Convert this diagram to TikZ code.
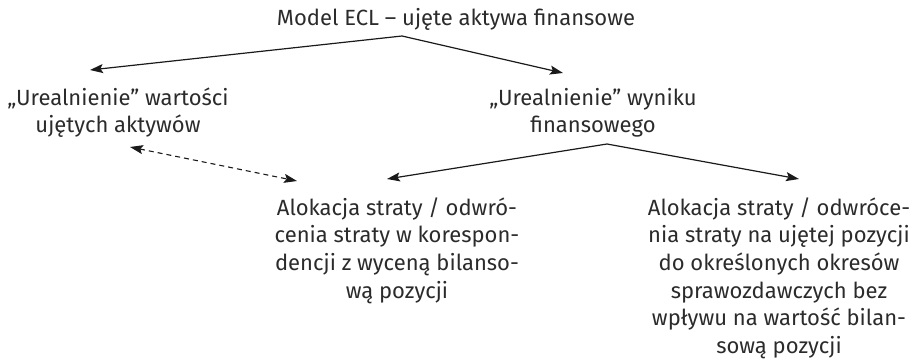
\documentclass[tikz,border=0pt]{standalone}
\usepackage{fontspec}
\setmainfont{Fira Sans}
\usetikzlibrary{arrows.meta}
\definecolor{txt}{HTML}{2B2B2B}
\definecolor{ln}{HTML}{1A1A1A}
\newcommand{\fst}{\rule{0pt}{20pt}}
\begin{document}
\begin{tikzpicture}[x=1pt,y=-1pt,
  lbl/.style={inner sep=0pt,align=center,text=txt,font=\fontsize{22}{26.8}\selectfont},
  lblb/.style={lbl,font=\fontsize{22}{27.6}\selectfont},
  conn/.style={draw=ln,line width=1.2pt,-{Stealth[length=13pt,width=9pt,inset=2.5pt]}},
  dconn/.style={draw=ln,line width=1.1pt,dash pattern=on 5pt off 4pt,{Stealth[length=13pt,width=9pt,inset=2.5pt]}-{Stealth[length=13pt,width=9pt,inset=2.5pt]}}]
\useasboundingbox (0,0) rectangle (914,364);
\node[lbl,anchor=base] (top) at (456,25) {Model ECL – ujęte aktywa finansowe};
\node[lbl,anchor=north] (left) at (118,85) {\fst„Urealnienie” wartości\\ujętych aktywów};
\node[lbl,anchor=north] (mid) at (593,85) {\fst„Urealnienie” wyniku\\finansowego};
\node[lblb,anchor=north] (bl) at (397,195) {\fst Alokacja straty / odwró-\\cenia straty w korespon-\\dencji z wyceną bilanso-\\wą pozycji};
\node[lblb,anchor=north] (br) at (779,195) {\fst Alokacja straty / odwróce-\\nia straty na ujętej pozycji\\do określonych okresów\\sprawozdawczych bez\\wpływu na wartość bilan-\\sową pozycji};
\coordinate (topfork) at (402,36);
\coordinate (midfork) at (607,144);
\coordinate (leftin) at (90,70);
\coordinate (midin) at (563,73);
\coordinate (blin) at (387,179);
\coordinate (brin) at (799,179);
\coordinate (dashA) at (130,147);
\coordinate (dashB) at (297,181);
\draw[conn] (topfork) -- (leftin);
\draw[conn] (topfork) -- (midin);
\draw[conn] (midfork) -- (blin);
\draw[conn] (midfork) -- (brin);
\draw[dconn] (dashA) -- (dashB);
\end{tikzpicture}
\end{document}
